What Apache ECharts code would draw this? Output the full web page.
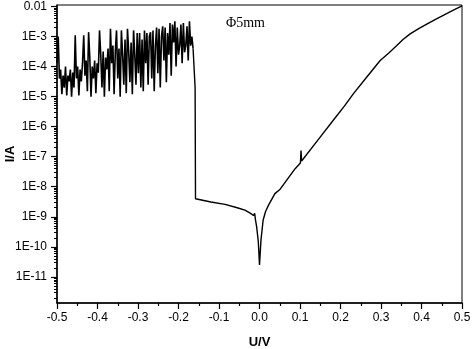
<!DOCTYPE html>
<html>
<head>
<meta charset="utf-8">
<script src="https://cdn.jsdelivr.net/npm/echarts@6/dist/echarts.min.js"></script>
<style>
  html, body { margin: 0; padding: 0; background: #fff; }
  #ivChart { width: 472px; height: 349px; }
</style>
</head>
<body>
<div id="ivChart"></div>
<script>
// noisy part below about -0.16 V
const noiseV = [
  -0.500, -0.497, -0.494, -0.491, -0.488, -0.485, -0.482, -0.479, -0.476, -0.473,
  -0.470, -0.467, -0.464, -0.461, -0.458, -0.455, -0.452, -0.449, -0.446, -0.443,
  -0.440, -0.437, -0.434, -0.431, -0.428, -0.425, -0.422, -0.419, -0.416, -0.413,
  -0.410, -0.407, -0.404, -0.401, -0.398, -0.395, -0.392, -0.389, -0.386, -0.383,
  -0.380, -0.377, -0.374, -0.371, -0.368, -0.365, -0.362, -0.359, -0.356, -0.353,
  -0.350, -0.347, -0.344, -0.341, -0.338, -0.335, -0.332, -0.329, -0.326, -0.323,
  -0.320, -0.317, -0.314, -0.311, -0.308, -0.305, -0.302, -0.299, -0.296, -0.293,
  -0.290, -0.287, -0.284, -0.281, -0.278, -0.275, -0.272, -0.269, -0.266, -0.263,
  -0.260, -0.257, -0.254, -0.251, -0.248, -0.245, -0.242, -0.239, -0.236, -0.233,
  -0.230, -0.227, -0.224, -0.221, -0.218, -0.215, -0.212, -0.209, -0.206, -0.203,
  -0.200, -0.197, -0.194, -0.191, -0.188, -0.185, -0.182, -0.179, -0.176, -0.173,
  -0.170, -0.167, -0.164
];
const noiseI = [
  1.3e-4, 1e-3, 4e-5, 8e-5, 1.2e-5, 5e-5, 2e-5, 1e-4, 1.1e-5, 5e-5,
  3.2e-5, 8e-5, 1e-5, 6.3e-5, 2e-5, 1.1e-3, 4e-5, 1e-4, 1.1e-5, 8e-5,
  3.2e-5, 1.3e-4, 1.1e-3, 5e-5, 1.6e-4, 1.5e-5, 1.4e-3, 2e-4, 1e-5, 1e-4,
  4e-5, 1.6e-4, 1.3e-5, 1.3e-4, 6.3e-5, 1.6e-3, 2.5e-4, 2e-5, 3.2e-4, 1e-5,
  2e-4, 8e-5, 4e-4, 1.5e-5, 1.8e-3, 1.3e-4, 5e-4, 1.2e-5, 3.2e-4, 1.6e-3,
  4e-5, 4e-4, 1e-5, 1.6e-3, 2.5e-4, 2.5e-5, 8e-4, 1.3e-5, 1.8e-3, 3.2e-4,
  3e-5, 6.3e-4, 1.2e-5, 1.6e-3, 2.5e-4, 2.5e-5, 1.3e-3, 6e-5, 1.3e-3, 2e-5,
  8e-4, 1.5e-5, 1.6e-3, 1.3e-4, 1.3e-3, 2.5e-5, 1e-3, 1.4e-3, 4e-5, 1.6e-3,
  1.5e-5, 5e-4, 2e-3, 6e-5, 1.8e-3, 2e-5, 1e-3, 2.2e-3, 1.6e-4, 2e-3,
  3e-5, 1.3e-3, 2.5e-4, 2.8e-3, 5e-5, 2.5e-3, 6.3e-4, 3.2e-3, 1e-4, 2e-3,
  2.5e-4, 5e-4, 2.5e-3, 1.3e-4, 2.8e-3, 3e-4, 5e-4, 2.2e-3, 1.6e-4, 3.2e-3,
  5e-4, 1e-3, 4e-4
];
// drop and the smooth branch through the dip at 0 V
const curveV = [
  -0.164, -0.161, -0.159, -0.158, -0.12, -0.085, -0.055, -0.036, -0.022, -0.015, -0.012,
  -0.010, -0.007, -0.003, 0.0, 0.0037, 0.009, 0.015, 0.022, 0.038, 0.051,
  0.088, 0.101, 0.1025, 0.104, 0.145, 0.186, 0.21, 0.232, 0.265, 0.298,
  0.32, 0.339, 0.355, 0.372, 0.392, 0.413, 0.437, 0.462, 0.48, 0.5
];
const curveI = [
  4e-4, 4e-4, 2e-5, 4.0e-9, 3.1e-9, 2.6e-9, 2.0e-9, 1.66e-9, 1.3e-9, 1.1e-9, 1.3e-9,
  8e-10, 4.6e-10, 1.5e-10, 2.5e-11, 1.7e-10, 7.8e-10, 1.5e-9, 2.4e-9, 5.9e-9, 8.3e-9,
  4.0e-8, 6.2e-8, 1.6e-7, 7.2e-8, 3.7e-7, 1.9e-6, 4.9e-6, 1.26e-5, 4.5e-5, 1.6e-4,
  2.9e-4, 5e-4, 8.1e-4, 1.23e-3, 1.8e-3, 2.6e-3, 3.9e-3, 5.75e-3, 7.7e-3, 1.05e-2
];
const xTicks = [-0.5, -0.4, -0.3, -0.2, -0.1, 0.0, 0.1, 0.2, 0.3, 0.4, 0.5];
const yDecades = [-11, -10, -9, -8, -7, -6, -5, -4, -3, -2];

const chart = echarts.init(document.getElementById('ivChart'));

// log axis drawn on a value axis holding log10 of the current
const noisePts = noiseV.map(function (v, i) { return [v, Math.log10(noiseI[i])]; });
const curvePts = curveV.map(function (v, i) { return [v, Math.log10(curveI[i])]; });

const minorY = [];
for (let n = -12; n < -1; n++) {
  for (let k = 2; k <= 9; k++) {
    const t = n + Math.log10(k);
    if (t > -11.87 && t < -1.95) minorY.push(t);
  }
}

const yMin = -11.87, yMax = -1.95;

const option = {
  animation: false,
  grid: {
    left: 57, right: 10, top: 5, bottom: 46,
    outerBoundsMode: 'none',
    show: true, borderColor: '#000', borderWidth: 1
  },
  graphic: [{
    type: 'text', left: 226, top: 16,
    style: { text: 'Φ5mm', font: '14px "Liberation Serif"', fill: '#000' }
  }],
  xAxis: {
    type: 'value', min: -0.5, max: 0.5, interval: 0.1,
    name: 'U/V', nameLocation: 'middle', nameGap: 33, nameMoveOverlap: false,
    nameTextStyle: { fontFamily: 'Liberation Sans', fontWeight: 'bold', fontSize: 13, color: '#000' },
    axisLine: { onZero: false, lineStyle: { color: '#000', width: 1.5 } },
    axisTick: { length: 6, lineStyle: { color: '#000', width: 1.2 } },
    minorTick: { show: true, splitNumber: 2, length: 3, lineStyle: { color: '#000', width: 1.2 } },
    axisLabel: {
      margin: 9, fontFamily: 'Liberation Sans', fontSize: 12, color: '#000',
      customValues: xTicks,
      formatter: function (v) { return v.toFixed(1); }
    },
    splitLine: { show: false }
  },
  yAxis: [{
    type: 'value', min: yMin, max: yMax,
    name: 'I/A', nameLocation: 'middle', nameGap: 40, nameRotate: 90, nameMoveOverlap: false,
    nameTextStyle: { fontFamily: 'Liberation Sans', fontWeight: 'bold', fontSize: 13, color: '#000' },
    axisLine: { onZero: false, lineStyle: { color: '#000', width: 1.5 } },
    axisTick: { length: 6, customValues: yDecades, lineStyle: { color: '#000', width: 1.2 } },
    axisLabel: {
      margin: 10, fontFamily: 'Liberation Sans', fontSize: 12, color: '#000',
      customValues: yDecades,
      formatter: function (v) { return v === -2 ? '0.01' : '1E' + Math.round(v); }
    },
    splitLine: { show: false }
  }, {
    type: 'value', min: yMin, max: yMax, position: 'left',
    axisLine: { show: false, onZero: false },
    axisTick: { length: 3, customValues: minorY, lineStyle: { color: '#000', width: 1 } },
    axisLabel: { show: false },
    splitLine: { show: false }
  }],
  series: [{
    type: 'line',
    data: noisePts,
    symbol: 'none',
    lineStyle: { color: '#000', width: 1.6 }
  }, {
    type: 'line',
    data: curvePts,
    symbol: 'none',
    lineStyle: { color: '#000', width: 1.4 }
  }]
};
chart.setOption(option);
</script>
</body>
</html>
